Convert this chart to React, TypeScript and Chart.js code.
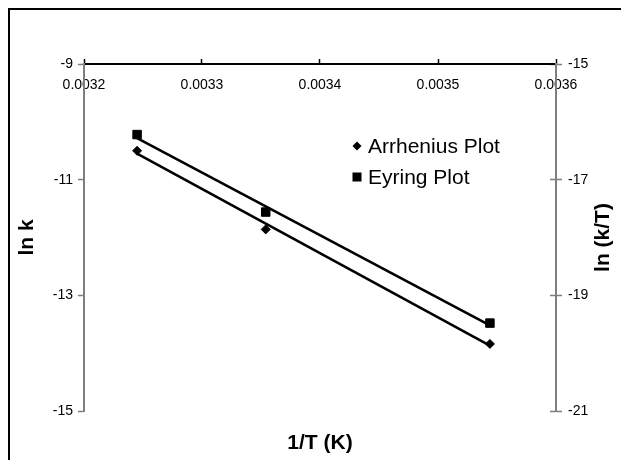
import React, { useEffect, useRef } from "react";
import { Chart, registerables } from "chart.js";

Chart.register(...registerables);

// ---- data ----
const invT = [0.003245, 0.003354, 0.003544];
const lnK = [-10.5, -11.86, -13.84];
const lnKT = [-16.22, -17.56, -19.48];
const fitX = [0.003245, 0.003544];
const lnKFit = [-10.55, -13.87];
const lnKTFit = [-16.28, -19.52];
const xTicks = [0.0032, 0.0033, 0.0034, 0.0035, 0.0036];
const leftTicks = [-15, -13, -11, -9];
const rightTicks = [-21, -19, -17, -15];
const seriesNames = ["Arrhenius Plot", "Eyring Plot"];
const xTitle = "1/T (K)";
const leftTitle = "ln k";
const rightTitle = "ln (k/T)";

const FONT = "Arial, 'Liberation Sans', sans-serif";
const AXIS_GRAY = "#7f7f7f";

const setTicks = (vals: number[]) => (scale: any) => {
  scale.ticks = vals.map((v) => ({ value: v }));
};

const rightTitlePlugin = {
  id: "rightTitle",
  afterDraw(chart: any) {
    const ctx = chart.ctx;
    const area = chart.chartArea;
    ctx.save();
    ctx.font = `bold 21px ${FONT}`;
    ctx.fillStyle = "#000";
    ctx.textAlign = "center";
    ctx.textBaseline = "middle";
    ctx.translate(area.right + 47, (area.top + area.bottom) / 2);
    ctx.rotate(-Math.PI / 2);
    ctx.fillText(rightTitle, 0, 0);
    ctx.restore();
  },
};

const legendPlugin = {
  id: "customLegend",
  afterDraw(chart: any) {
    const ctx = chart.ctx;
    const area = chart.chartArea;
    const mx = area.left + 273;
    const rows = [area.top + 82, area.top + 113];
    ctx.save();
    ctx.fillStyle = "#000";
    const r = 4.5;
    ctx.beginPath();
    ctx.moveTo(mx - r, rows[0]);
    ctx.lineTo(mx, rows[0] - r);
    ctx.lineTo(mx + r, rows[0]);
    ctx.lineTo(mx, rows[0] + r);
    ctx.closePath();
    ctx.fill();
    const s = 4.5;
    ctx.fillRect(mx - s, rows[1] - s, 2 * s, 2 * s);
    ctx.font = `21px ${FONT}`;
    ctx.textAlign = "left";
    ctx.textBaseline = "middle";
    ctx.fillText(seriesNames[0], mx + 11, rows[0] + 1);
    ctx.fillText(seriesNames[1], mx + 11, rows[1] + 1);
    ctx.restore();
  },
};

export default function App() {
  const ref = useRef<HTMLCanvasElement>(null);

  useEffect(() => {
    if (!ref.current) return;
    const chart = new Chart(ref.current, {
      type: "scatter",
      data: {
        datasets: [
          {
            label: seriesNames[0],
            data: invT.map((x, i) => ({ x, y: lnK[i] })),
            yAxisID: "y",
            pointStyle: "rectRot",
            pointRadius: 4.5,
            backgroundColor: "#000",
            borderColor: "#000",
            borderWidth: 1,
            showLine: false,
          },
          {
            label: seriesNames[1],
            data: invT.map((x, i) => ({ x, y: lnKT[i] })),
            yAxisID: "y2",
            pointStyle: "rect",
            pointRadius: 6,
            backgroundColor: "#000",
            borderColor: "#000",
            borderWidth: 1,
            showLine: false,
          },
          {
            label: "Arrhenius fit",
            data: fitX.map((x, i) => ({ x, y: lnKFit[i] })),
            yAxisID: "y",
            showLine: true,
            pointRadius: 0,
            borderColor: "#000",
            borderWidth: 2.6,
          },
          {
            label: "Eyring fit",
            data: fitX.map((x, i) => ({ x, y: lnKTFit[i] })),
            yAxisID: "y2",
            showLine: true,
            pointRadius: 0,
            borderColor: "#000",
            borderWidth: 2.6,
          },
        ],
      },
      options: {
        responsive: false,
        animation: false,
        devicePixelRatio: 1,
        layout: { padding: { top: 54, left: 0, right: 0, bottom: 0 } },
        plugins: {
          legend: { display: false },
          tooltip: { enabled: false },
        },
        scales: {
          x: {
            type: "linear",
            axis: "x",
            position: { y: -9 } as any,
            min: 0.0032,
            max: 0.0036,
            afterBuildTicks: setTicks(xTicks),
            ticks: {
              callback: (v: any) => Number(v).toFixed(4),
              font: { family: FONT, size: 14 },
              color: "#000",
              padding: 19,
              maxRotation: 0,
              autoSkip: false,
            },
            grid: {
              drawOnChartArea: false,
              drawTicks: true,
              tickLength: -6,
              color: "#000",
              tickWidth: 1.5,
            },
            border: { display: true, color: "#000", width: 2 },
          },
          x2: {
            type: "linear",
            axis: "x",
            position: "bottom",
            min: 0.0032,
            max: 0.0036,
            ticks: { display: false },
            grid: { display: false },
            border: { display: false },
            title: {
              display: true,
              text: xTitle,
              color: "#000",
              font: { family: FONT, size: 21, weight: "bold" },
              padding: { top: 0, bottom: 24 },
            },
            afterFit: (s: any) => {
              s.height = 69;
            },
          },
          y: {
            type: "linear",
            position: "left",
            min: -15,
            max: -9,
            afterBuildTicks: setTicks(leftTicks),
            ticks: {
              font: { family: FONT, size: 14 },
              color: "#000",
              padding: 5,
            },
            grid: {
              drawOnChartArea: false,
              drawTicks: true,
              tickLength: 6,
              color: AXIS_GRAY,
              tickWidth: 1.5,
            },
            border: { display: true, color: AXIS_GRAY, width: 2 },
            title: {
              display: true,
              text: leftTitle,
              color: "#000",
              font: { family: FONT, size: 21, weight: "bold" },
              padding: { top: 5, bottom: 0 },
            },
            afterFit: (s: any) => {
              s.width = 74;
            },
          },
          y2: {
            type: "linear",
            position: "right",
            min: -21,
            max: -15,
            afterBuildTicks: setTicks(rightTicks),
            ticks: {
              font: { family: FONT, size: 14 },
              color: "#000",
              padding: 6,
            },
            grid: {
              drawOnChartArea: false,
              drawTicks: true,
              tickLength: 6,
              color: AXIS_GRAY,
              tickWidth: 1.5,
            },
            border: { display: true, color: AXIS_GRAY, width: 2 },
            afterFit: (s: any) => {
              s.width = 74;
            },
          },
          y3: {
            type: "linear",
            axis: "y",
            position: { x: 0.0036 } as any,
            min: -21,
            max: -15,
            afterBuildTicks: setTicks(rightTicks),
            ticks: { display: false },
            grid: {
              drawOnChartArea: false,
              drawTicks: true,
              tickLength: 6,
              color: AXIS_GRAY,
              tickWidth: 1.5,
            },
            border: { display: false },
          },
        } as any,
      },
      plugins: [rightTitlePlugin, legendPlugin],
    });
    return () => chart.destroy();
  }, []);

  return (
    <div
      style={{
        position: "fixed",
        left: 0,
        top: 0,
        width: "100vw",
        height: "100vh",
        overflow: "hidden",
        background: "#fff",
      }}
    >
      <div
        style={{
          position: "absolute",
          left: 8,
          top: 8,
          width: 620,
          height: 470,
          border: "2px solid #000",
          background: "#fff",
        }}
      >
        <canvas ref={ref} width={620} height={470} style={{ display: "block" }} />
      </div>
    </div>
  );
}
